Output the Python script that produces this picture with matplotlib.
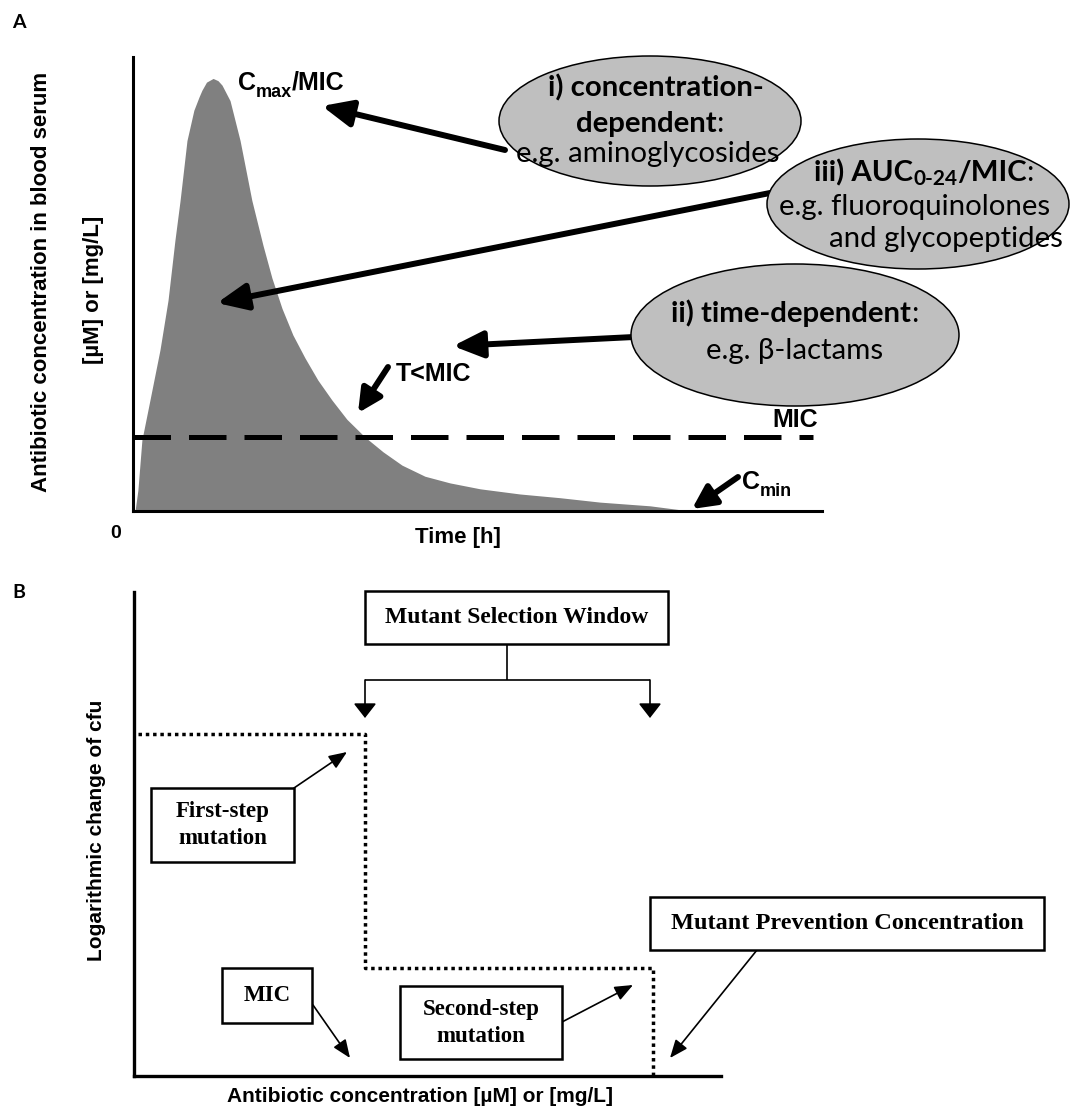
import matplotlib
matplotlib.use("Agg")
import matplotlib.pyplot as plt
from matplotlib.patches import Ellipse, Rectangle, FancyArrowPatch, ArrowStyle

# ---------------- data ----------------
# Panel A: serum concentration-time profile (time in h, concentration in multiples of MIC)
time_h = [0.07, 0.17, 0.31, 0.59, 0.94, 1.22, 1.46, 1.64, 1.88, 2.12, 2.30, 2.40,
          2.56, 2.79, 2.96, 3.10, 3.38, 3.73, 4.14, 4.53, 4.84, 5.19, 5.57, 5.99,
          6.44, 6.93, 7.45, 8.08, 8.71, 9.37, 10.17, 11.04, 12.09, 13.48, 14.87,
          16.27, 18.01, 19.40]
conc = [0.0, 0.28, 0.96, 1.50, 2.18, 2.85, 3.66, 4.20, 5.01, 5.42, 5.60, 5.69,
        5.80, 5.85, 5.82, 5.76, 5.55, 5.01, 4.20, 3.59, 3.15, 2.74, 2.38, 2.07,
        1.77, 1.50, 1.24, 1.00, 0.80, 0.62, 0.47, 0.38, 0.30, 0.23, 0.18,
        0.12, 0.07, 0.0]
mic_level = 1.0
mic_line_end = 23.7
time_max = 24.0
conc_max = 6.14

# Panel B: stepwise log change of cfu against antibiotic concentration
conc_steps = [0.7, 39.3, 88.4]
log_cfu_levels = [70.7, 22.3, 0.0]

# ---------------- figure ----------------
W, H = 1070, 1115
fig = plt.figure(figsize=(W / 100, H / 100), dpi=100)
fig.patch.set_facecolor("white")
renderer = fig.canvas.get_renderer()

SANS = "Liberation Sans"
SERIF = "Liberation Serif"
CAL = "Lato"


def fx(x):
    return x / W


def fy(y):
    return 1 - y / H


def rich_text(x, y, parts, family, ha="center", zorder=5):
    """Draw a run of text pieces side by side; y is the baseline in pixels."""
    widths = []
    for s, w, sz, _ in parts:
        t = fig.text(0, 0, s, fontsize=sz, fontweight=w, family=family)
        widths.append(t.get_window_extent(renderer).width)
        t.remove()
    total = sum(widths)
    if ha == "center":
        x0 = x - total / 2
    elif ha == "right":
        x0 = x - total
    else:
        x0 = x
    for (s, w, sz, dy), wd in zip(parts, widths):
        fig.text(fx(x0), fy(y - dy), s, fontsize=sz, fontweight=w, family=family,
                 ha="left", va="baseline", zorder=zorder)
        x0 += wd


def arrow(p0, p1, lw, hl, hw, zorder=3):
    a = FancyArrowPatch(posA=(fx(p0[0]), fy(p0[1])), posB=(fx(p1[0]), fy(p1[1])),
                        transform=fig.transFigure,
                        arrowstyle=ArrowStyle("-|>", head_length=hl, head_width=hw),
                        mutation_scale=1, lw=lw, color="black",
                        shrinkA=0, shrinkB=0, zorder=zorder)
    fig.patches.append(a)


def line(pts, lw, zorder=3):
    xs = [fx(p[0]) for p in pts]
    ys = [fy(p[1]) for p in pts]
    fig.lines.append(plt.Line2D(xs, ys, transform=fig.transFigure, color="black",
                                lw=lw, zorder=zorder, solid_capstyle="butt"))


# ---------------- panel A ----------------
ax_a = fig.add_axes([fx(133), fy(511), (822 - 133) / W, (511 - 57) / H])
ax_a.set_facecolor("none")
ax_a.fill_between(time_h, conc, 0, color="#808080", lw=0, zorder=1)
ax_a.hlines(mic_level, 0, mic_line_end, colors="black", lw=3.6,
            linestyles=(0, (7.5, 3.6)), zorder=2)
ax_a.set_xlim(0, time_max)
ax_a.set_ylim(0, conc_max)
for side in ("top", "right"):
    ax_a.spines[side].set_visible(False)
for side in ("left", "bottom"):
    ax_a.spines[side].set_linewidth(2.2)
ax_a.set_xticks([])
ax_a.set_yticks([])

fig.text(fx(12), fy(22), "A", fontsize=14, fontweight="bold", family=CAL,
         ha="left", va="center")
fig.text(fx(42), fy(282), "Antibiotic concentration in blood serum", rotation=90,
         fontsize=16, fontweight="bold", family=SANS, ha="center", va="center")
fig.text(fx(93), fy(290), "[µM] or [mg/L]", rotation=90,
         fontsize=16, fontweight="bold", family=SANS, ha="center", va="center")
fig.text(fx(116), fy(534), "0", fontsize=14, fontweight="bold", family=SANS,
         ha="center", va="center")
fig.text(fx(458), fy(537), "Time [h]", fontsize=16, fontweight="bold", family=SANS,
         ha="center", va="center")

# curve annotations
rich_text(238, 90, [("C", "bold", 18, 0), ("max", "bold", 13, -7), ("/MIC", "bold", 18, 0)],
          SANS, ha="left")
rich_text(396, 381, [("T<MIC", "bold", 18, 0)], SANS, ha="left")
fig.text(fx(795), fy(420), "MIC", fontsize=18, fontweight="bold", family=SANS,
         ha="center", va="center")
rich_text(742, 489, [("C", "bold", 18, 0), ("min", "bold", 13, -7)], SANS, ha="left")

arrow((505, 150), (322, 106), 4.3, 18, 8)
arrow((775, 192), (217, 303), 4.3, 18, 8)
arrow((634, 337), (453, 346), 4.3, 18, 8)
arrow((388, 367), (358, 413), 4.3, 14, 7)
arrow((738, 477), (692, 509), 4.3, 14, 7)

# class ellipses
ell_style = dict(transform=fig.transFigure, facecolor="#bfbfbf", edgecolor="black",
                 lw=1.1, zorder=4)
fig.patches.append(Ellipse((fx(650), fy(121)), 302 / W, 130 / H, **ell_style))
fig.patches.append(Ellipse((fx(918), fy(204)), 302 / W, 130 / H, **ell_style))
fig.patches.append(Ellipse((fx(795), fy(335)), 328 / W, 142 / H, **ell_style))

FS = 21.2
FSS = 15
rich_text(656, 96, [("i) concentration-", "bold", FS, 0)], CAL)
rich_text(650, 132, [("dependent", "bold", FS, 0), (":", "normal", FS, 0)], CAL)
rich_text(648, 162, [("e.g. aminoglycosides", "normal", FS, 0)], CAL)

rich_text(924, 181, [("iii) AUC", "bold", FS, 0), ("0-24", "bold", FSS, -4),
                     ("/MIC", "bold", FS, 0), (":", "normal", FS, 0)], CAL)
rich_text(915, 215, [("e.g. fluoroquinolones", "normal", FS, 0)], CAL)
rich_text(1063, 247, [("and glycopeptides", "normal", FS, 0)], CAL, ha="right")

rich_text(795, 322, [("ii) time-dependent", "bold", FS, 0), (":", "normal", FS, 0)], CAL)
rich_text(795, 359, [("e.g. β-lactams", "normal", FS, 0)], CAL)

# ---------------- panel B ----------------
ax_b = fig.add_axes([fx(134), fy(1076), (721 - 134) / W, (1076 - 592) / H])
ax_b.set_facecolor("none")
ax_b.step(conc_steps, log_cfu_levels, where="post", color="black", lw=2.5,
          linestyle=(0, (1, 1.1)), zorder=2)
ax_b.set_xlim(0, 100)
ax_b.set_ylim(0, 100)
for side in ("top", "right"):
    ax_b.spines[side].set_visible(False)
for side in ("left", "bottom"):
    ax_b.spines[side].set_linewidth(2.4)
ax_b.set_xticks([])
ax_b.set_yticks([])

fig.text(fx(12), fy(593), "B", fontsize=14, fontweight="bold", family=CAL,
         ha="left", va="center")
fig.text(fx(97), fy(830), "Logarithmic change of cfu", rotation=90,
         fontsize=15, fontweight="bold", family=SANS, ha="center", va="center")
fig.text(fx(420), fy(1097), "Antibiotic concentration [µM] or [mg/L]",
         fontsize=15, fontweight="bold", family=SANS, ha="center", va="center")


def box(x0, y0, x1, y1, lines, size=16.5):
    fig.patches.append(Rectangle((fx(x0), fy(y1)), (x1 - x0) / W, (y1 - y0) / H,
                                 transform=fig.transFigure, facecolor="white",
                                 edgecolor="black", lw=1.8, zorder=4))
    n = len(lines)
    cy = (y0 + y1) / 2
    step = 27
    for i, s in enumerate(lines):
        yy = cy + (i - (n - 1) / 2) * step
        fig.text(fx((x0 + x1) / 2), fy(yy), s, fontsize=size, fontweight="bold",
                 family=SERIF, ha="center", va="center", zorder=5)


box(365, 591, 668, 644, ["Mutant Selection Window"], 17)
box(151, 788, 294, 862, ["First-step", "mutation"])
box(222, 968, 312, 1023, ["MIC"])
box(400, 986, 562, 1059, ["Second-step", "mutation"])
box(650, 897, 1044, 950, ["Mutant Prevention Concentration"], 17.5)

line([(507, 644), (507, 680)], 1.2)
line([(365, 680), (650, 680)], 1.2)
arrow((365, 680), (365, 718), 1.2, 9, 7)
arrow((650, 680), (650, 718), 1.2, 9, 7)

arrow((294, 788), (347, 752), 1.2, 11, 4.5)
arrow((313, 1005), (350, 1058), 1.2, 11, 4.5)
arrow((562, 1022), (633, 985), 1.2, 11, 4.5)
arrow((757, 950), (670, 1058), 1.2, 11, 4.5)

fig.savefig("out.png", dpi=100, facecolor="white")
